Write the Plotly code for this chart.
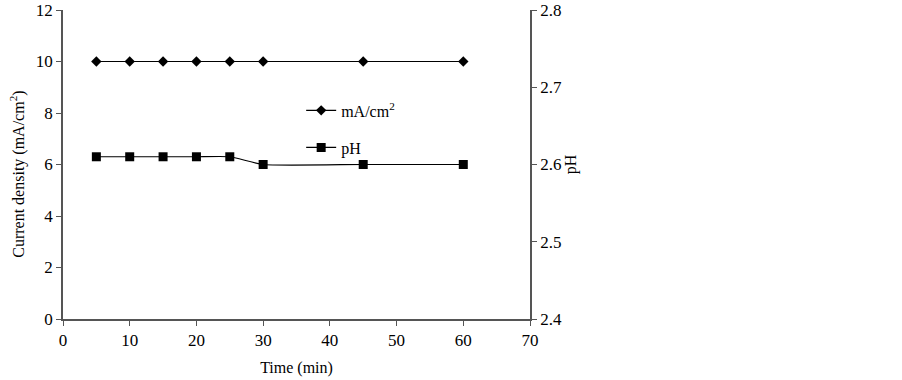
import plotly.graph_objects as go

time_min = [5, 10, 15, 20, 25, 30, 45, 60]
current_density = [10, 10, 10, 10, 10, 10, 10, 10]
ph_values = [2.61, 2.61, 2.61, 2.61, 2.61, 2.60, 2.60, 2.60]

font_family = "Liberation Serif"
axis_color = "#555555"

fig = go.Figure()
fig.add_trace(go.Scatter(
    x=time_min, y=current_density, name="mA/cm<sup>2</sup>",
    mode="lines+markers",
    line=dict(color="black", width=1.2),
    marker=dict(symbol="diamond", size=8, color="black"),
    showlegend=True,
    legend="legend",
))
fig.add_trace(go.Scatter(
    x=time_min, y=ph_values, name="pH", yaxis="y2",
    mode="lines+markers",
    line=dict(color="black", width=1.2, shape="spline", smoothing=0.5),
    marker=dict(symbol="square", size=9, color="black"),
    showlegend=True,
    legend="legend2",
))

axis_common = dict(
    showgrid=False, zeroline=False, showline=True, linecolor=axis_color, linewidth=1.5,
    ticks="outside", ticklen=5, tickcolor=axis_color, automargin=False,
    tickfont=dict(family=font_family, size=17, color="black"),
)

fig.update_layout(
    width=902, height=380,
    margin=dict(l=63, r=372, t=10, b=61),
    plot_bgcolor="white", paper_bgcolor="white",
    showlegend=True,
    font=dict(family=font_family, size=16, color="black"),
    xaxis=dict(range=[0, 70], dtick=10, title=dict(text="Time (min)", font=dict(size=16), standoff=13), **axis_common),
    yaxis=dict(range=[0, 12], dtick=2, **axis_common),
    yaxis2=dict(range=[2.4, 2.8], dtick=0.1, overlaying="y", side="right", tickformat=".1f",
                title=dict(text="pH", font=dict(size=16), standoff=4), **axis_common),
    legend=dict(x=0.51, y=0.675, xanchor="left", yanchor="middle", bgcolor="rgba(0,0,0,0)",
                font=dict(family=font_family, size=16), itemwidth=30),
    legend2=dict(x=0.51, y=0.555, xanchor="left", yanchor="middle", bgcolor="rgba(0,0,0,0)",
                 font=dict(family=font_family, size=16), itemwidth=30),
    annotations=[dict(
        text="Current density (mA/cm<sup>2</sup>)", textangle=-90,
        xref="paper", yref="paper", x=-0.0964, y=0.47,
        xanchor="center", yanchor="middle", showarrow=False,
        font=dict(family=font_family, size=16, color="black"),
    )],
)

fig.write_html("out.html", config={"displayModeBar": False},
               post_script="document.body.style.margin='0';")
